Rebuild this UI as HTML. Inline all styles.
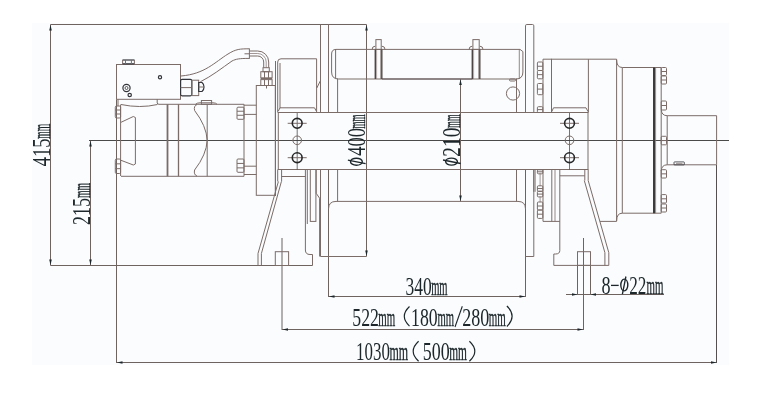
<!DOCTYPE html>
<html><head><meta charset="utf-8"><style>
html,body{margin:0;padding:0;background:#fff;}
svg{display:block;will-change:transform;}
.o{fill:none;stroke:#7b6c68;stroke-width:1;}
.d{fill:none;stroke:#6f6360;stroke-width:1;}
.c{fill:none;stroke:#4a4a4a;stroke-width:1;}
.k{fill:none;stroke:#33353a;stroke-width:1.2;}
.k2{fill:none;stroke:#33353a;stroke-width:0.8;}
.t text{font-family:"Liberation Serif",serif;font-size:25.5px;fill:#1d272b;}
</style></head><body>
<svg width="774" height="407" viewBox="0 0 774 407">
<rect width="774" height="407" fill="#fff"/>
<rect x="32" y="23" width="697" height="342" fill="#fafcfe"/>
<line class="d" x1="50.50" y1="24.50" x2="366.50" y2="24.50"/>
<line class="d" x1="50.50" y1="24.50" x2="50.50" y2="265.50"/>
<polygon fill="#1d272b" points="50.5,25.0 49.2,30.5 51.8,30.5"/>
<polygon fill="#1d272b" points="50.5,265.0 49.2,259.5 51.8,259.5"/>
<line class="d" x1="50.50" y1="265.50" x2="312.50" y2="265.50"/>
<line class="d" x1="90.50" y1="140.50" x2="90.50" y2="265.50"/>
<polygon fill="#1d272b" points="90.5,141.0 89.2,146.5 91.8,146.5"/>
<polygon fill="#1d272b" points="90.5,265.0 89.2,259.5 91.8,259.5"/>
<line class="c" x1="89.00" y1="140.50" x2="729.00" y2="140.50"/>
<line class="d" x1="366.50" y1="24.50" x2="366.50" y2="256.50"/>
<polygon fill="#1d272b" points="366.5,25.0 365.2,30.5 367.8,30.5"/>
<polygon fill="#1d272b" points="366.5,256.0 365.2,250.5 367.8,250.5"/>
<line class="d" x1="460.50" y1="79.00" x2="460.50" y2="201.50"/>
<polygon fill="#1d272b" points="460.5,79.5 459.2,85.0 461.8,85.0"/>
<polygon fill="#1d272b" points="460.5,201.0 459.2,195.5 461.8,195.5"/>
<line class="d" x1="328.50" y1="296.50" x2="525.50" y2="296.50"/>
<polygon fill="#1d272b" points="329.0,296.5 334.5,295.2 334.5,297.8"/>
<polygon fill="#1d272b" points="525.0,296.5 519.5,295.2 519.5,297.8"/>
<line class="d" x1="328.50" y1="169.50" x2="328.50" y2="297.00"/>
<line class="d" x1="525.50" y1="169.50" x2="525.50" y2="297.00"/>
<line class="d" x1="282.00" y1="329.50" x2="583.50" y2="329.50"/>
<polygon fill="#1d272b" points="282.5,329.5 288.0,328.2 288.0,330.8"/>
<polygon fill="#1d272b" points="583.0,329.5 577.5,328.2 577.5,330.8"/>
<line class="d" x1="282.00" y1="238.00" x2="282.00" y2="330.00"/>
<line class="d" x1="583.50" y1="238.00" x2="583.50" y2="330.00"/>
<line class="d" x1="116.50" y1="362.50" x2="717.00" y2="362.50"/>
<polygon fill="#1d272b" points="117.0,362.5 122.5,361.2 122.5,363.8"/>
<polygon fill="#1d272b" points="716.5,362.5 711.0,361.2 711.0,363.8"/>
<line class="d" x1="116.50" y1="99.50" x2="116.50" y2="363.00"/>
<line class="d" x1="716.50" y1="165.00" x2="716.50" y2="363.00" style="stroke:#55504f;"/>
<line class="d" x1="566.00" y1="294.50" x2="664.00" y2="294.50"/>
<polygon fill="#1d272b" points="577.5,294.5 572.0,293.2 572.0,295.8"/>
<polygon fill="#1d272b" points="590.5,294.5 596.0,293.2 596.0,295.8"/>
<line class="d" x1="577.50" y1="265.00" x2="577.50" y2="295.00"/>
<line class="d" x1="590.50" y1="265.00" x2="590.50" y2="295.00"/>
<g class="t" transform="translate(0,295.3)"><text x="405.46" y="0" textLength="26.20" lengthAdjust="spacingAndGlyphs">340</text><text x="431.18" y="0" textLength="16.39" lengthAdjust="spacingAndGlyphs" style="stroke:#1d272b;stroke-width:0.4">mm</text></g>
<g class="t" transform="translate(0,325.7)"><text x="352.27" y="0" textLength="26.71" lengthAdjust="spacingAndGlyphs">522</text><text x="378.27" y="0" textLength="16.90" lengthAdjust="spacingAndGlyphs" style="stroke:#1d272b;stroke-width:0.4">mm</text><text x="411.04" y="0" textLength="26.64" lengthAdjust="spacingAndGlyphs">180</text><text x="437.38" y="0" textLength="16.59" lengthAdjust="spacingAndGlyphs" style="stroke:#1d272b;stroke-width:0.4">mm</text><text x="462.31" y="0" textLength="27.08" lengthAdjust="spacingAndGlyphs">280</text><text x="488.77" y="0" textLength="17.00" lengthAdjust="spacingAndGlyphs" style="stroke:#1d272b;stroke-width:0.4">mm</text></g>
<path d="M409.5,306.5 Q399.10,316.3 409.5,326.1" fill="none" stroke="#1d272b" stroke-width="1.2"/>
<path d="M506.9,306.0 Q517.30,316.25 506.9,326.5" fill="none" stroke="#1d272b" stroke-width="1.2"/>
<line x1="455" y1="327" x2="462.3" y2="306.3" stroke="#1d272b" stroke-width="1.1"/>
<g class="t" transform="translate(0,360.3)"><text x="356.11" y="0" textLength="33.83" lengthAdjust="spacingAndGlyphs">1030</text><text x="389.55" y="0" textLength="18.64" lengthAdjust="spacingAndGlyphs" style="stroke:#1d272b;stroke-width:0.4">mm</text><text x="422.86" y="0" textLength="26.92" lengthAdjust="spacingAndGlyphs">500</text><text x="449.16" y="0" textLength="17.72" lengthAdjust="spacingAndGlyphs" style="stroke:#1d272b;stroke-width:0.4">mm</text></g>
<path d="M418.6,341.2 Q407.80,351.2 418.6,361.2" fill="none" stroke="#1d272b" stroke-width="1.2"/>
<path d="M469.4,341.2 Q480.20,351.2 469.4,361.2" fill="none" stroke="#1d272b" stroke-width="1.2"/>
<g class="t" transform="translate(0,293.8)"><text x="601.61" y="0" textLength="9.08" lengthAdjust="spacingAndGlyphs">8</text><text x="629.14" y="0" textLength="17.20" lengthAdjust="spacingAndGlyphs">22</text><text x="646.57" y="0" textLength="16.90" lengthAdjust="spacingAndGlyphs" style="stroke:#1d272b;stroke-width:0.4">mm</text></g>
<g transform="translate(0,293.8)"><ellipse cx="624.30" cy="-8.8" rx="3.5" ry="5.9" fill="none" stroke="#1d272b" stroke-width="1.4"/><line x1="625.90" y1="-17.3" x2="622.40" y2="0.4" stroke="#1d272b" stroke-width="1.3"/></g>
<line x1="611" y1="285.4" x2="618.7" y2="285.4" stroke="#1d272b" stroke-width="1.3"/>
<g class="t" transform="translate(49.5,0) rotate(-90)"><text x="-166.35" y="0" textLength="27.88" lengthAdjust="spacingAndGlyphs">415</text><text x="-138.80" y="0" textLength="14.95" lengthAdjust="spacingAndGlyphs" style="stroke:#1d272b;stroke-width:0.4">mm</text></g>
<g class="t" transform="translate(89.5,0) rotate(-90)"><text x="-224.89" y="0" textLength="26.99" lengthAdjust="spacingAndGlyphs">215</text><text x="-198.00" y="0" textLength="15.16" lengthAdjust="spacingAndGlyphs" style="stroke:#1d272b;stroke-width:0.4">mm</text></g>
<g class="t" transform="translate(365.2,0) rotate(-90)"><text x="-155.85" y="0" textLength="27.75" lengthAdjust="spacingAndGlyphs">400</text><text x="-128.39" y="0" textLength="13.93" lengthAdjust="spacingAndGlyphs" style="stroke:#1d272b;stroke-width:0.4">mm</text></g>
<g transform="translate(365.2,0) rotate(-90)"><ellipse cx="-161.70" cy="-8.8" rx="3.5" ry="5.9" fill="none" stroke="#1d272b" stroke-width="1.4"/><line x1="-160.10" y1="-17.3" x2="-163.60" y2="0.4" stroke="#1d272b" stroke-width="1.3"/></g>
<g class="t" transform="translate(460.3,0) rotate(-90)"><text x="-156.65" y="0" textLength="28.98" lengthAdjust="spacingAndGlyphs">210</text><text x="-127.78" y="0" textLength="13.31" lengthAdjust="spacingAndGlyphs" style="stroke:#1d272b;stroke-width:0.4">mm</text></g>
<g transform="translate(460.3,0) rotate(-90)"><ellipse cx="-161.60" cy="-8.8" rx="3.5" ry="5.9" fill="none" stroke="#1d272b" stroke-width="1.4"/><line x1="-160.00" y1="-17.3" x2="-163.50" y2="0.4" stroke="#1d272b" stroke-width="1.3"/></g>
<rect class="o" x="116.50" y="64.50" width="64.00" height="34.80" />
<line class="k" x1="122.50" y1="60.00" x2="134.50" y2="60.00"/>
<line class="k" x1="122.50" y1="63.80" x2="134.50" y2="63.80"/>
<line class="o" x1="122.60" y1="60.00" x2="122.60" y2="64.50"/>
<line class="o" x1="125.50" y1="60.00" x2="125.50" y2="64.00"/>
<line class="o" x1="131.40" y1="60.00" x2="131.40" y2="64.00"/>
<line class="o" x1="134.40" y1="60.00" x2="134.40" y2="64.50"/>
<circle class="k" cx="126.5" cy="88" r="3.6"/>
<circle class="k2" cx="126.5" cy="88" r="1.5"/>
<circle class="k" cx="129.7" cy="95" r="1.7"/>
<circle class="k" cx="160" cy="77.3" r="1.6"/>
<rect class="k" x="180.60" y="79.30" width="11.20" height="16.50" rx="1.5" />
<line class="o" x1="180.60" y1="87.60" x2="191.80" y2="87.60"/>
<rect class="o" x="191.80" y="80.20" width="6.90" height="15.40" />
<path class="k" d="M198.7,82.5 L202,82.5 Q204,84 204,87 Q204,90 202,91.5 L198.7,91.5 Z" />
<line class="o" x1="198.70" y1="87.00" x2="203.50" y2="87.00"/>
<path class="o" d="M181,76 C205,74 215,62 228,54 C236,49 240,48.8 249.4,48.8" />
<path class="o" d="M200.3,81.8 C212,76 222,68 232,61 C236,59 239,58.4 249.4,58.4" />
<line class="o" x1="249.40" y1="48.50" x2="249.40" y2="58.80"/>
<line class="o" x1="244.50" y1="53.80" x2="249.40" y2="53.80"/>
<path class="o" d="M249.5,51 L257.7,51 A11,11 0 0 1 268.7,62 L268.7,67.7" />
<path class="o" d="M249.5,53.5 L257.7,53.5 A8.5,8.5 0 0 1 266.2,62 L266.2,67.7" style="stroke-width:0.7"/>
<path class="o" d="M249.5,56 L257.7,56 A6,6 0 0 1 263.7,62 L263.7,67.7" />
<rect class="o" x="263.00" y="67.70" width="6.30" height="4.00" />
<rect class="o" x="260.80" y="71.70" width="11.30" height="6.20" />
<line class="o" x1="264.50" y1="71.70" x2="264.50" y2="77.90"/>
<line class="o" x1="268.50" y1="71.70" x2="268.50" y2="77.90"/>
<line class="o" x1="260.80" y1="78.50" x2="272.10" y2="78.50" style="stroke-width:1.3;"/>
<rect class="o" x="260.80" y="79.60" width="11.30" height="5.90" />
<line class="o" x1="264.50" y1="79.60" x2="264.50" y2="85.50"/>
<line class="o" x1="268.50" y1="79.60" x2="268.50" y2="85.50"/>
<line class="o" x1="266.50" y1="85.50" x2="266.50" y2="88.50"/>
<rect class="o" x="256.30" y="85.50" width="19.00" height="109.80" />
<path class="o" d="M118,99.3 L118,106" />
<path class="o" d="M120.6,104.5 L120.6,176" />
<path class="o" d="M121,104.5 Q140,108.5 157.5,104.5" />
<path class="o" d="M157.2,99.3 L157.2,103 Q157.5,104.3 159,104.3 L244,104.3" />
<line class="o" x1="121.00" y1="176.30" x2="244.00" y2="176.30"/>
<line class="o" x1="244.00" y1="104.30" x2="244.00" y2="176.30"/>
<rect class="o" x="115.30" y="106.00" width="5.30" height="12.00" rx="1.2" />
<line class="o" x1="115.30" y1="110.00" x2="120.60" y2="110.00"/>
<line class="o" x1="115.30" y1="114.00" x2="120.60" y2="114.00"/>
<rect class="o" x="115.30" y="159.00" width="5.30" height="14.50" rx="1.2" />
<line class="o" x1="115.30" y1="163.83" x2="120.60" y2="163.83"/>
<line class="o" x1="115.30" y1="168.67" x2="120.60" y2="168.67"/>
<path class="o" d="M121,122.3 L133.3,116.5 L135.4,117.5 L135.4,164 L133.3,165 L121,160.3" />
<line class="o" x1="167.50" y1="104.30" x2="167.50" y2="176.30" style="stroke-width:1.8;"/>
<line class="o" x1="178.50" y1="104.30" x2="178.50" y2="176.30" style="stroke-width:1.3;"/>
<path class="o" d="M197,104.5 Q193.5,106 194.6,110.5 Q206.5,126 207.2,140.3 Q206.5,154.6 194.6,170 Q193.5,174.6 197,176.1" />
<line class="o" x1="207.20" y1="104.30" x2="207.20" y2="176.30"/>
<rect class="o" x="201.40" y="100.50" width="10.20" height="3.80" />
<path class="o" d="M195.5,104.3 Q197,102.8 200,102.8 L213,102.8 Q216,102.8 217,104.3" />
<rect class="o" x="237.00" y="107.20" width="7.00" height="12.10" rx="1" />
<line class="o" x1="237.00" y1="111.23" x2="244.00" y2="111.23"/>
<line class="o" x1="237.00" y1="115.27" x2="244.00" y2="115.27"/>
<rect class="o" x="237.00" y="159.00" width="7.00" height="13.30" rx="1" />
<line class="o" x1="237.00" y1="163.43" x2="244.00" y2="163.43"/>
<line class="o" x1="237.00" y1="167.87" x2="244.00" y2="167.87"/>
<line class="o" x1="244.00" y1="105.20" x2="256.30" y2="105.20"/>
<line class="o" x1="244.00" y1="114.40" x2="256.30" y2="114.40"/>
<line class="o" x1="244.00" y1="166.20" x2="256.30" y2="166.20"/>
<line class="o" x1="244.00" y1="174.50" x2="256.30" y2="174.50"/>
<path class="o" d="M275.5,61 L275.5,196" />
<path class="o" d="M277.7,112.5 L277.7,62 Q277.7,58.8 281,58.8 L316.6,58.8 L316.6,112.5" />
<line class="o" x1="280.00" y1="63.00" x2="280.00" y2="108.00"/>
<path class="o" d="M278.3,111.1 L280,107.8 L314.5,107.8 L316.3,111.1" />
<path class="o" d="M320.5,80.5 L316.8,88" />
<line class="o" x1="320.50" y1="24.50" x2="320.50" y2="112.50"/>
<line class="o" x1="320.50" y1="169.50" x2="320.50" y2="256.50"/>
<line class="o" x1="328.50" y1="24.50" x2="328.50" y2="112.50"/>
<line class="o" x1="320.50" y1="256.50" x2="366.50" y2="256.50"/>
<path class="o" d="M336,49.4 Q331.6,49.4 331.6,54 L331.6,72 Q331.6,79 338.6,79 L516,79 Q522.9,79 522.9,72 L522.9,51.6 L520,49.4 Z" />
<line class="o" x1="382.00" y1="79.00" x2="472.30" y2="79.00" style="stroke:#62585a;stroke-width:1.2;"/>
<line class="o" x1="335.60" y1="49.00" x2="335.60" y2="78.60"/>
<line class="o" x1="519.30" y1="49.40" x2="519.30" y2="79.00" style="stroke-width:0.8;"/>
<line class="o" x1="337.60" y1="78.60" x2="337.60" y2="112.50"/>
<line class="o" x1="337.60" y1="169.50" x2="337.60" y2="201.40"/>
<path class="o" d="M328.5,209 Q328.5,201.4 336,201.4 L518,201.4 Q525.5,201.4 525.5,209" />
<rect class="o" x="375.90" y="39.60" width="5.30" height="9.80" />
<line class="o" x1="375.30" y1="49.40" x2="375.30" y2="79.00" style="stroke:#4e4644;stroke-width:1.4;"/>
<line class="o" x1="381.80" y1="49.40" x2="381.80" y2="79.00" style="stroke:#4e4644;stroke-width:1.4;"/>
<line class="o" x1="376.60" y1="49.40" x2="376.60" y2="79.00" style="stroke-width:0.6;"/>
<line class="o" x1="380.50" y1="49.40" x2="380.50" y2="79.00" style="stroke-width:0.6;"/>
<path class="o" d="M372.1,49.4 A3.2,3.2 0 0 1 375.3,46.2" />
<path class="o" d="M381.8,46.2 A3.2,3.2 0 0 1 385.0,49.4" />
<rect class="o" x="472.90" y="39.60" width="6.30" height="9.80" />
<line class="o" x1="472.30" y1="49.40" x2="472.30" y2="79.00" style="stroke:#4e4644;stroke-width:1.4;"/>
<line class="o" x1="479.80" y1="49.40" x2="479.80" y2="79.00" style="stroke:#4e4644;stroke-width:1.4;"/>
<line class="o" x1="473.60" y1="49.40" x2="473.60" y2="79.00" style="stroke-width:0.6;"/>
<line class="o" x1="478.50" y1="49.40" x2="478.50" y2="79.00" style="stroke-width:0.6;"/>
<path class="o" d="M469.1,49.4 A3.2,3.2 0 0 1 472.3,46.2" />
<path class="o" d="M479.8,46.2 A3.2,3.2 0 0 1 483.0,49.4" />
<circle class="o" cx="513" cy="93.5" r="6.6"/>
<rect class="o" x="509.50" y="79.00" width="6.00" height="2.00" rx="1" />
<line class="o" x1="516.50" y1="78.60" x2="516.50" y2="112.50"/>
<line class="o" x1="516.50" y1="169.50" x2="516.50" y2="201.40"/>
<path class="o" d="M525.5,112.5 L525.5,25.8 Q525.5,24.5 526.8,24.5 L532.5,24.5 Q533.8,24.5 533.8,25.8 L533.8,112.5" />
<path class="o" d="M533.8,169.5 L533.8,256.5 L525.5,256.5" />
<rect class="o" x="278.30" y="112.50" width="309.70" height="57.00" />
<line class="o" x1="297.20" y1="113.00" x2="297.20" y2="169.50" style="stroke:#3a3a3a;stroke-width:0.7;"/>
<line class="o" x1="287.70" y1="123.30" x2="306.70" y2="123.30" style="stroke-width:1;"/>
<circle cx="297.2" cy="123.3" r="4.9" fill="none" stroke="#262626" stroke-width="1.6"/>
<line class="o" x1="287.70" y1="157.70" x2="306.70" y2="157.70" style="stroke-width:1;"/>
<circle cx="297.2" cy="157.7" r="4.9" fill="none" stroke="#262626" stroke-width="1.6"/>
<circle class="o" cx="297.2" cy="140.3" r="4.3"/>
<line class="o" x1="569.50" y1="113.00" x2="569.50" y2="169.50" style="stroke:#3a3a3a;stroke-width:0.7;"/>
<line class="o" x1="560.00" y1="123.30" x2="579.00" y2="123.30" style="stroke-width:1;"/>
<circle cx="569.5" cy="123.3" r="4.9" fill="none" stroke="#262626" stroke-width="1.6"/>
<line class="o" x1="560.00" y1="157.70" x2="579.00" y2="157.70" style="stroke-width:1;"/>
<circle cx="569.5" cy="157.7" r="4.9" fill="none" stroke="#262626" stroke-width="1.6"/>
<circle class="o" cx="569.5" cy="140.3" r="4.3"/>
<line class="o" x1="281.60" y1="176.50" x2="305.40" y2="176.50"/>
<line class="o" x1="277.70" y1="169.50" x2="277.70" y2="181.50"/>
<line class="o" x1="281.60" y1="169.50" x2="281.60" y2="181.50"/>
<path class="o" d="M278.4,181.5 L258,253.5 L258,265.5" />
<path class="o" d="M281.4,181.5 L261.4,253.5 L261.4,265.5" />
<path class="o" d="M305.4,169.5 L305.4,250 Q305.4,254.5 310,254.5 L312.5,254.5 L312.5,265.5" />
<rect class="o" x="310.30" y="169.50" width="5.60" height="51.90" />
<path class="o" d="M316.2,169.5 L316.2,193.3 L319.6,198.2 L319.6,256.5" />
<line class="o" x1="307.30" y1="169.50" x2="307.30" y2="224.00"/>
<rect class="o" x="275.30" y="251.70" width="13.30" height="13.80" />
<line class="o" x1="559.80" y1="175.80" x2="584.80" y2="175.80"/>
<line class="o" x1="584.80" y1="169.50" x2="584.80" y2="180.50"/>
<path class="o" d="M559.8,169.5 L559.8,250.5 Q559.8,254 555.5,254 L553.8,254 L553.8,265.4 L608.8,265.4 L608.8,252.7 L588.2,180.5 L588.2,169.5" />
<path class="o" d="M584.3,180.5 L604.9,252.7 L604.9,265.4" />
<rect class="o" x="577.50" y="251.70" width="13.00" height="13.70" />
<path class="o" d="M543,112.5 L543,59.2 L616.6,59.2 L616.6,221.4 L600,221.4" />
<path class="o" d="M616.6,59.6 Q616.6,67.5 622.3,67.5 L661.2,67.5 L661.2,213.2 L622.3,213.2 Q616.6,213.2 616.6,221" />
<path class="o" d="M543,169.5 L543,221.4 L559.8,221.4" />
<line class="o" x1="551.50" y1="58.80" x2="551.50" y2="112.50"/>
<line class="o" x1="551.80" y1="169.50" x2="551.80" y2="221.40"/>
<line class="o" x1="555.00" y1="169.50" x2="555.00" y2="221.40" style="stroke-width:0.8;"/>
<line class="o" x1="588.40" y1="59.20" x2="588.40" y2="112.50"/>
<line class="o" x1="622.30" y1="67.50" x2="622.30" y2="213.20"/>
<line class="o" x1="654.00" y1="67.50" x2="654.00" y2="213.20" style="stroke:#3c3a3a;stroke-width:2;"/>
<line class="o" x1="655.60" y1="67.50" x2="655.60" y2="213.20" style="stroke-width:0.8;"/>
<path class="o" d="M551.8,111.6 L553.5,107.8 L586,107.8 L588,111.6" />
<rect class="o" x="537.40" y="62.00" width="5.40" height="8.50" rx="1" />
<line class="o" x1="537.40" y1="66.25" x2="542.80" y2="66.25"/>
<rect class="o" x="537.40" y="70.50" width="5.40" height="8.30" rx="1" />
<line class="o" x1="537.40" y1="74.65" x2="542.80" y2="74.65"/>
<rect class="o" x="537.40" y="83.50" width="5.40" height="11.20" rx="1" />
<line class="o" x1="537.40" y1="89.10" x2="542.80" y2="89.10"/>
<rect class="o" x="537.40" y="106.70" width="5.40" height="5.80" rx="1" />
<line class="o" x1="537.40" y1="109.60" x2="542.80" y2="109.60"/>
<rect class="o" x="537.40" y="169.80" width="5.40" height="4.00" rx="1" />
<line class="o" x1="537.40" y1="171.80" x2="542.80" y2="171.80"/>
<rect class="o" x="537.40" y="185.80" width="5.40" height="5.50" rx="1" />
<line class="o" x1="537.40" y1="188.55" x2="542.80" y2="188.55"/>
<rect class="o" x="537.40" y="191.30" width="5.40" height="5.60" rx="1" />
<line class="o" x1="537.40" y1="194.10" x2="542.80" y2="194.10"/>
<rect class="o" x="537.40" y="202.00" width="5.40" height="8.00" rx="1" />
<line class="o" x1="537.40" y1="206.00" x2="542.80" y2="206.00"/>
<rect class="o" x="537.40" y="210.00" width="5.40" height="8.40" rx="1" />
<line class="o" x1="537.40" y1="214.20" x2="542.80" y2="214.20"/>
<line class="o" x1="540.10" y1="173.80" x2="540.10" y2="185.80" style="stroke-width:0.7;"/>
<line class="o" x1="540.10" y1="196.90" x2="540.10" y2="202.00" style="stroke-width:0.7;"/>
<line class="o" x1="533.80" y1="169.50" x2="533.80" y2="191.80"/>
<line class="o" x1="535.20" y1="169.50" x2="535.20" y2="191.80" style="stroke-width:0.8;"/>
<rect class="o" x="661.20" y="67.50" width="5.30" height="8.00" rx="1" />
<line class="o" x1="661.20" y1="71.50" x2="666.50" y2="71.50"/>
<rect class="o" x="661.20" y="76.00" width="5.30" height="8.00" rx="1" />
<line class="o" x1="661.20" y1="80.00" x2="666.50" y2="80.00"/>
<rect class="o" x="661.20" y="101.00" width="5.30" height="9.00" rx="1" />
<line class="o" x1="661.20" y1="105.50" x2="666.50" y2="105.50"/>
<rect class="o" x="661.20" y="136.30" width="5.30" height="8.50" rx="1" />
<line class="o" x1="661.20" y1="140.55" x2="666.50" y2="140.55"/>
<rect class="o" x="661.20" y="169.70" width="5.30" height="8.30" rx="1" />
<line class="o" x1="661.20" y1="173.85" x2="666.50" y2="173.85"/>
<rect class="o" x="661.20" y="194.60" width="5.30" height="8.40" rx="1" />
<line class="o" x1="661.20" y1="198.80" x2="666.50" y2="198.80"/>
<rect class="o" x="661.20" y="204.00" width="5.30" height="8.00" rx="1" />
<line class="o" x1="661.20" y1="208.00" x2="666.50" y2="208.00"/>
<path class="o" d="M661.2,109.5 Q661.6,115.7 667.2,115.7 L716.6,115.7 L716.6,164.8 L667.2,164.8 Q661.6,164.8 661.2,171" />
<line class="o" x1="667.20" y1="115.70" x2="667.20" y2="164.80"/>
<rect class="k2" x="674.00" y="161.90" width="10.30" height="3.00" rx="0.5" />
<line class="o" x1="676.00" y1="163.40" x2="682.50" y2="163.40" style="stroke-width:0.7;"/>
</svg></body></html>
